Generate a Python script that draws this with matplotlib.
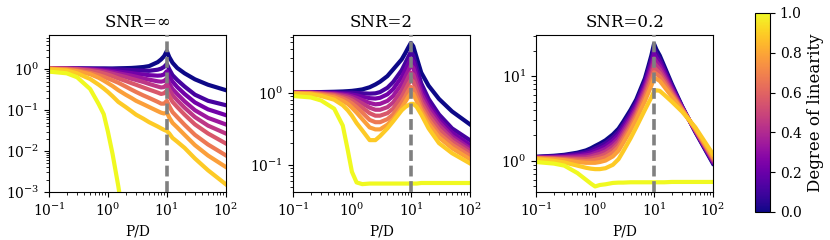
import numpy as np
import matplotlib
import matplotlib.pyplot as plt

plt.rcParams['font.family'] = 'serif'
plt.rcParams['font.serif'] = ['DejaVu Serif']
plt.rcParams['mathtext.fontset'] = 'dejavuserif'

# P/D ratio (x positions shared by every curve)
pd_ratio = [0.1, 0.2, 0.3, 0.5, 0.7, 0.85, 1, 1.2, 1.5, 2, 2.5, 3, 4, 5, 7, 8, 9, 10, 11, 12.5, 15, 20, 30, 50, 100]

# degree of linearity of each curve
lin_levels = np.linspace(0, 1, 10)

titles = ['SNR=$\\infty$', 'SNR=2', 'SNR=0.2']

# one row per degree of linearity
risk_inf = [
    [1.05, 1.05, 1.05, 1.05, 1.05, 1.05, 1.05, 1.05, 1.06, 1.07, 1.08, 1.1, 1.14, 1.2, 1.5, 1.75, 2.1, 2.8, 2.0, 1.45, 1.08, 0.8, 0.57, 0.42, 0.31],
    [1.05, 1.05, 1.05, 1.04, 1.03, 1.03, 1.02, 1.01, 1.0, 0.98, 0.96, 0.95, 0.93, 0.92, 0.98, 1.04, 1.15, 1.35, 1.0, 0.72, 0.55, 0.38, 0.24, 0.17, 0.133],
    [1.05, 1.05, 1.04, 1.02, 0.99, 0.97, 0.95, 0.92, 0.88, 0.84, 0.81, 0.78, 0.75, 0.72, 0.7, 0.71, 0.75, 0.9, 0.68, 0.5, 0.37, 0.25, 0.155, 0.105, 0.076],
    [1.05, 1.04, 1.03, 0.99, 0.95, 0.92, 0.89, 0.85, 0.8, 0.74, 0.7, 0.66, 0.6, 0.56, 0.51, 0.5, 0.52, 0.6, 0.45, 0.33, 0.25, 0.165, 0.1, 0.065, 0.045],
    [1.05, 1.04, 1.02, 0.96, 0.91, 0.87, 0.83, 0.78, 0.72, 0.65, 0.59, 0.55, 0.49, 0.44, 0.38, 0.36, 0.37, 0.43, 0.32, 0.235, 0.175, 0.115, 0.068, 0.042, 0.027],
    [1.05, 1.03, 1.0, 0.92, 0.85, 0.79, 0.74, 0.68, 0.6, 0.52, 0.46, 0.42, 0.36, 0.32, 0.27, 0.25, 0.26, 0.3, 0.22, 0.16, 0.12, 0.078, 0.045, 0.027, 0.0154],
    [1.04, 1.0, 0.94, 0.82, 0.72, 0.66, 0.6, 0.54, 0.47, 0.38, 0.32, 0.28, 0.23, 0.2, 0.16, 0.145, 0.145, 0.17, 0.125, 0.09, 0.068, 0.044, 0.025, 0.0145, 0.0079],
    [1.03, 0.97, 0.9, 0.76, 0.62, 0.53, 0.46, 0.39, 0.31, 0.24, 0.2, 0.17, 0.14, 0.12, 0.095, 0.087, 0.083, 0.088, 0.066, 0.049, 0.038, 0.025, 0.014, 0.0078, 0.0041],
    [1.0, 0.93, 0.8, 0.58, 0.42, 0.34, 0.28, 0.22, 0.16, 0.12, 0.095, 0.078, 0.062, 0.051, 0.04, 0.036, 0.033, 0.031, 0.027, 0.021, 0.017, 0.012, 0.0066, 0.0034, 0.00155],
    [0.88, 0.8, 0.64, 0.33, 0.14, 0.08, 0.03, 0.0085, 0.0014, 1e-4, 1e-5, 1e-5, 1e-5, 1e-5, 1e-5, 1e-5, 1e-5, 1e-5, 1e-5, 1e-5, 1e-5, 1e-5, 1e-5, 1e-5, 1e-5],
]

risk_snr2 = [
    [1.02, 1.02, 1.02, 1.03, 1.04, 1.05, 1.06, 1.08, 1.11, 1.19, 1.3, 1.42, 1.7, 2.1, 2.9, 3.5, 4.2, 4.9, 4.4, 3.1, 1.9, 1.25, 0.82, 0.55, 0.365],
    [1.01, 1.01, 1.01, 1.01, 1.0, 1.0, 1.0, 0.99, 0.98, 0.97, 0.98, 1.02, 1.17, 1.4, 2.05, 2.55, 3.1, 3.7, 3.3, 2.25, 1.35, 0.82, 0.5, 0.32, 0.22],
    [1.01, 1.01, 1.0, 0.99, 0.97, 0.96, 0.94, 0.92, 0.88, 0.84, 0.83, 0.85, 0.95, 1.12, 1.65, 2.05, 2.5, 3.0, 2.7, 1.85, 1.12, 0.7, 0.43, 0.28, 0.19],
    [1.0, 1.0, 0.99, 0.97, 0.94, 0.92, 0.89, 0.85, 0.79, 0.72, 0.69, 0.7, 0.77, 0.9, 1.32, 1.65, 2.0, 2.4, 2.2, 1.55, 0.97, 0.62, 0.39, 0.25, 0.17],
    [1.0, 1.0, 0.98, 0.95, 0.91, 0.88, 0.84, 0.78, 0.71, 0.62, 0.58, 0.58, 0.63, 0.73, 1.07, 1.33, 1.62, 1.9, 1.78, 1.3, 0.84, 0.55, 0.35, 0.23, 0.158],
    [1.0, 0.99, 0.97, 0.93, 0.87, 0.83, 0.78, 0.71, 0.62, 0.52, 0.48, 0.48, 0.52, 0.6, 0.88, 1.08, 1.3, 1.5, 1.43, 1.08, 0.73, 0.48, 0.31, 0.21, 0.145],
    [0.99, 0.98, 0.95, 0.9, 0.83, 0.77, 0.71, 0.63, 0.53, 0.42, 0.39, 0.39, 0.43, 0.5, 0.73, 0.88, 1.05, 1.2, 1.16, 0.9, 0.63, 0.42, 0.27, 0.19, 0.133],
    [0.98, 0.97, 0.93, 0.86, 0.77, 0.7, 0.62, 0.53, 0.43, 0.33, 0.31, 0.31, 0.36, 0.43, 0.62, 0.74, 0.87, 0.98, 0.96, 0.77, 0.56, 0.37, 0.24, 0.17, 0.12],
    [0.97, 0.95, 0.9, 0.8, 0.67, 0.57, 0.48, 0.38, 0.3, 0.22, 0.22, 0.25, 0.32, 0.4, 0.57, 0.63, 0.67, 0.7, 0.7, 0.64, 0.5, 0.32, 0.2, 0.145, 0.105],
    [0.9, 0.86, 0.78, 0.6, 0.35, 0.16, 0.08, 0.057, 0.054, 0.055, 0.055, 0.055, 0.055, 0.055, 0.055, 0.055, 0.055, 0.055, 0.055, 0.055, 0.056, 0.056, 0.056, 0.056, 0.056],
]

risk_snr02 = [
    [1.12, 1.15, 1.18, 1.25, 1.33, 1.41, 1.5, 1.6, 1.75, 2.05, 2.4, 2.9, 4.0, 5.3, 9.4, 13, 17.5, 24, 20.5, 17.5, 13, 8.1, 4.4, 2.2, 0.93],
    [1.11, 1.13, 1.16, 1.21, 1.27, 1.33, 1.41, 1.49, 1.62, 1.89, 2.21, 2.68, 3.7, 4.92, 8.63, 11.8, 15.6, 21.1, 18.4, 15.9, 12.0, 7.72, 4.34, 2.23, 0.954],
    [1.11, 1.12, 1.13, 1.17, 1.21, 1.26, 1.32, 1.39, 1.5, 1.74, 2.03, 2.47, 3.43, 4.56, 7.92, 10.7, 13.9, 18.5, 16.4, 14.4, 11.1, 7.36, 4.27, 2.26, 0.979],
    [1.1, 1.1, 1.11, 1.13, 1.16, 1.19, 1.24, 1.3, 1.39, 1.6, 1.87, 2.28, 3.18, 4.23, 7.28, 9.64, 12.4, 16.3, 14.7, 13.1, 10.3, 7.01, 4.21, 2.29, 1.0],
    [1.09, 1.09, 1.09, 1.09, 1.1, 1.13, 1.17, 1.21, 1.29, 1.48, 1.72, 2.1, 2.94, 3.92, 6.68, 8.73, 11.1, 14.3, 13.2, 11.9, 9.54, 6.68, 4.15, 2.32, 1.03],
    [1.085, 1.07, 1.06, 1.05, 1.05, 1.07, 1.1, 1.13, 1.2, 1.36, 1.59, 1.94, 2.72, 3.64, 6.13, 7.9, 9.9, 12.6, 11.8, 10.8, 8.83, 6.36, 4.09, 2.35, 1.056],
    [1.08, 1.06, 1.04, 1.01, 1.0, 1.01, 1.03, 1.06, 1.11, 1.25, 1.46, 1.79, 2.52, 3.38, 5.63, 7.15, 8.83, 11.1, 10.6, 9.84, 8.18, 6.07, 4.03, 2.38, 1.084],
    [1.07, 1.04, 1.02, 0.97, 0.95, 0.95, 0.95, 0.97, 1.01, 1.13, 1.32, 1.63, 2.3, 3.09, 5.08, 6.35, 7.71, 9.47, 9.26, 8.77, 7.45, 5.72, 3.96, 2.41, 1.117],
    [1.05, 1.0, 0.96, 0.88, 0.83, 0.81, 0.8, 0.8, 0.82, 0.9, 1.05, 1.3, 1.85, 2.5, 4.0, 4.8, 5.6, 6.6, 6.8, 6.7, 6.0, 5.0, 3.8, 2.5, 1.2],
    [0.97, 0.93, 0.88, 0.72, 0.6, 0.54, 0.5, 0.52, 0.53, 0.55, 0.555, 0.555, 0.56, 0.56, 0.56, 0.56, 0.56, 0.56, 0.56, 0.56, 0.56, 0.565, 0.565, 0.565, 0.565],
]

ylims = [(1e-3, 6.9), (0.042, 6.3), (0.43, 30.5)]
panels = [risk_inf, risk_snr2, risk_snr02]
lefts = [0.059, 0.353, 0.646]

cmap = plt.get_cmap('plasma')
fig = plt.figure(figsize=(8.3, 2.4), dpi=100)

for k in range(3):
    ax = fig.add_axes([lefts[k], 0.2, 0.213, 0.654])
    for lvl, row in zip(lin_levels, panels[k]):
        ax.plot(pd_ratio, row, color=cmap(lvl), lw=3)
    ax.axvline(10, color='gray', ls='--', lw=2.6, dashes=(3, 1.3), zorder=5)
    ax.set_xscale('log')
    ax.set_yscale('log')
    ax.set_xlim(0.1, 100)
    ax.set_ylim(*ylims[k])
    ax.set_title(titles[k], fontsize=12)
    ax.set_xlabel('P/D', fontsize=10)
    ax.tick_params(labelsize=10)

# colorbar for the degree of linearity
cax = fig.add_axes([0.9096, 0.117, 0.018, 0.829])
sm = matplotlib.cm.ScalarMappable(cmap=cmap, norm=matplotlib.colors.Normalize(0, 1))
cbar = fig.colorbar(sm, cax=cax)
cbar.set_ticks([0, 0.2, 0.4, 0.6, 0.8, 1.0])
cbar.ax.tick_params(labelsize=10)
cbar.set_label('Degree of linearity', fontsize=12)

plt.savefig('out.png', dpi=100)
